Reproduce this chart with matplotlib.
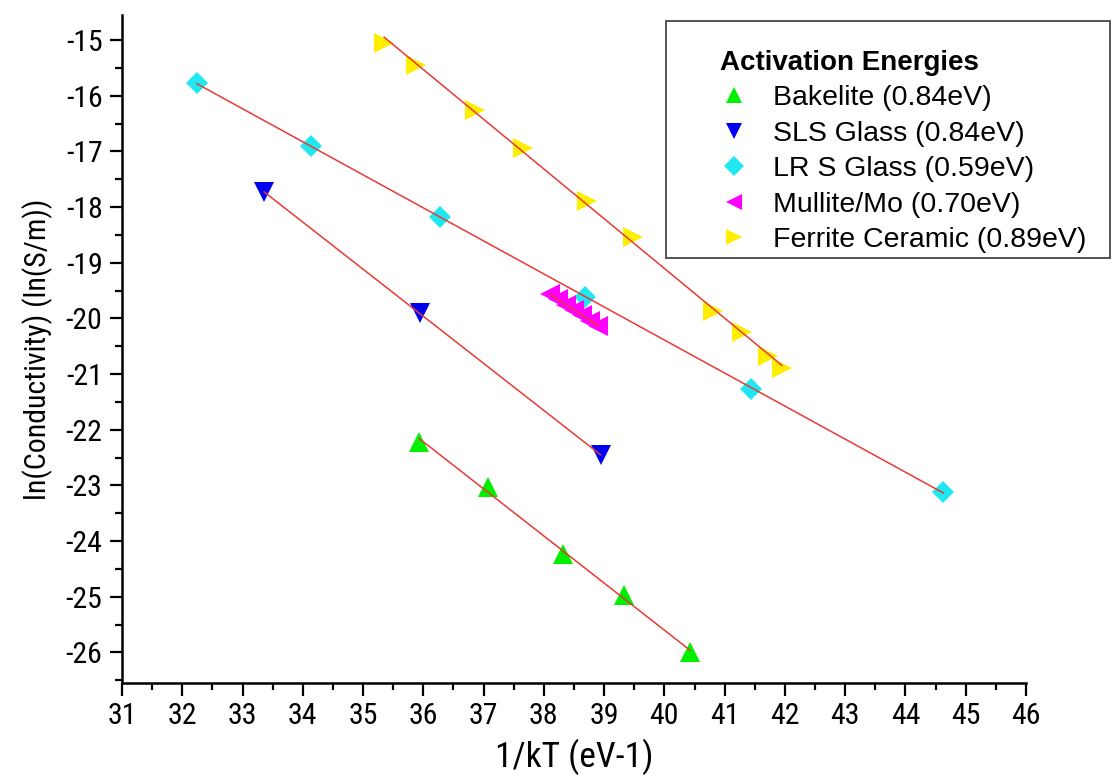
import matplotlib
matplotlib.use("Agg")
import matplotlib.pyplot as plt
from matplotlib.patches import Rectangle
from matplotlib.ticker import MultipleLocator
import numpy as np

plt.rcParams['font.family'] = ['Liberation Sans', 'DejaVu Sans']
plt.rcParams['axes.unicode_minus'] = False

# values (x = 1/kT, y = ln(conductivity))
bakelite_x = [35.93, 37.08, 38.31, 39.33, 40.42]
bakelite_y = [-22.22, -23.03, -24.23, -24.97, -26.00]

sls_x = [33.36, 35.94, 38.94]
sls_y = [-17.73, -19.91, -22.45]

lrs_x = [32.24, 34.13, 36.27, 38.68, 41.44, 44.63]
lrs_y = [-15.78, -16.90, -18.17, -19.62, -21.26, -23.12]

mullite_x = [38.10, 38.23, 38.37, 38.50, 38.63, 38.77, 38.90]
mullite_y = [-19.57, -19.66, -19.76, -19.85, -19.94, -20.04, -20.13]

ferrite_x = [35.35, 35.88, 36.86, 37.65, 38.71, 39.48, 40.81, 41.28, 41.72, 41.95]
ferrite_y = [-15.05, -15.45, -16.26, -16.94, -17.90, -18.54, -19.86, -20.24, -20.68, -20.90]

labels = ["Bakelite (0.84eV)", "SLS Glass (0.84eV)", "LR S Glass (0.59eV)",
          "Mullite/Mo (0.70eV)", "Ferrite Ceramic (0.89eV)"]

series = [
    (bakelite_x, bakelite_y, '^', '#00f000', 14),
    (sls_x, sls_y, 'v', '#0000f0', 14),
    (lrs_x, lrs_y, 'D', '#20e8f0', 11.5),
    (mullite_x, mullite_y, '<', '#ff00ff', 14),
    (ferrite_x, ferrite_y, '>', '#ffee00', 14),
]

narrow = ['Roboto Condensed', 'Liberation Sans', 'DejaVu Sans']

fig = plt.figure(figsize=(11.16, 7.81), dpi=100)
ax = fig.add_axes([122/1116, 1-683/781, (1026-122)/1116, (683-15)/781])

for (xs, ys, mk, col, ms), lab in zip(series, labels):
    ax.plot(xs, ys, linestyle='none', marker=mk, color=col, markersize=ms,
            markeredgewidth=0, label=lab, zorder=2)
    # linear Arrhenius fit drawn over the data range
    k, b = np.polyfit(xs, ys, 1)
    xx = np.array([min(xs), max(xs)])
    ax.plot(xx, k*xx + b, color='#e83a35', lw=1.1, zorder=3)

ax.set_xlim(31, 46)
ax.set_ylim(-26.55, -14.55)
ax.xaxis.set_major_locator(MultipleLocator(1))
ax.xaxis.set_minor_locator(MultipleLocator(0.5))
ax.yaxis.set_major_locator(MultipleLocator(1))
ax.yaxis.set_minor_locator(MultipleLocator(0.5))

for s in ['top', 'right']:
    ax.spines[s].set_visible(False)
for s in ['left', 'bottom']:
    ax.spines[s].set_linewidth(1.8)
ax.tick_params(which='major', direction='out', length=9, width=1.6, pad=5)
ax.tick_params(which='minor', direction='out', length=5, width=1.6)
for t in ax.get_xticklabels() + ax.get_yticklabels():
    t.set_fontfamily(narrow)
    t.set_fontsize(21.5)

ax.set_xlabel("1/kT (eV-1)", fontsize=25.5, family=narrow, labelpad=6)
ax.set_ylabel("ln(Conductivity) (ln(S/m))", fontsize=21.5, family=narrow, labelpad=9)

leg = ax.legend(loc='upper left', bbox_to_anchor=(720/1116, 1-50/781),
                bbox_transform=fig.transFigure, frameon=False, fontsize=20.5,
                title="Activation Energies",
                title_fontproperties={'weight': 'bold', 'size': 20},
                alignment='left', markerscale=0.85, handlelength=1.0,
                handletextpad=0.85, labelspacing=0.33, borderpad=0, borderaxespad=0)

fig.patches.append(Rectangle((666/1116, 1-258/781), (1110-666)/1116, (258-21)/781,
                             transform=fig.transFigure, fill=False,
                             edgecolor='#444444', lw=1.3))

fig.savefig("out.png", dpi=100)
